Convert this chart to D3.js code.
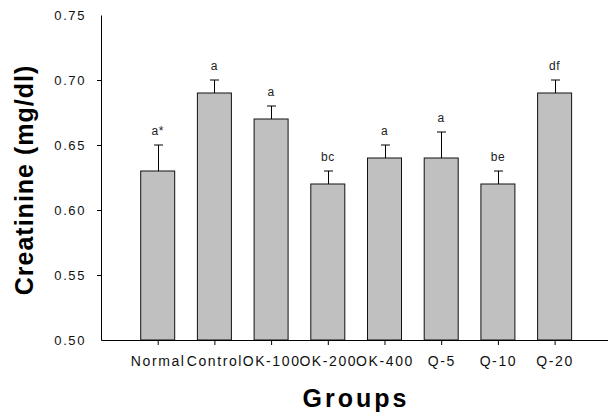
<!DOCTYPE html>
<html>
<head>
<meta charset="utf-8">
<script src="https://cdn.jsdelivr.net/npm/d3@7"></script>
<style>
  body { margin: 0; background: #fff; }
  svg { display: block; font-family: "Liberation Sans", Arial, sans-serif; }
</style>
</head>
<body>
<div id="chart"></div>
<script>
// Data
const groups = ["Normal", "Control", "OK-100", "OK-200", "OK-400", "Q-5", "Q-10", "Q-20"];
const means  = [0.63, 0.69, 0.67, 0.62, 0.64, 0.64, 0.62, 0.69];
const errors = [0.02, 0.01, 0.01, 0.01, 0.01, 0.02, 0.01, 0.01];
const letters = ["a*", "a", "a", "bc", "a", "a", "be", "df"];
const yTicks = [0.50, 0.55, 0.60, 0.65, 0.70, 0.75];

const width = 608, height = 415;
const margin = {top: 15, left: 101, bottom: 340};

const svg = d3.select("#chart")
  .append("svg")
    .attr("width", width)
    .attr("height", height);

// x: points with one empty step on each side
const x = d3.scalePoint()
  .domain(groups)
  .range([margin.left, margin.left + 9 * 56.7])
  .padding(1);

const y = d3.scaleLinear()
  .domain([0.50, 0.75])
  .range([margin.bottom, margin.top]);

const barW = 34;

// bars
svg.append("g")
  .selectAll("rect")
  .data(groups)
  .join("rect")
    .attr("x", d => x(d) - barW / 2)
    .attr("y", (d, i) => y(means[i]))
    .attr("width", barW)
    .attr("height", (d, i) => y(0.50) - y(means[i]))
    .attr("fill", "#c0c0c0")
    .attr("stroke", "#111")
    .attr("stroke-width", 1);

// upper error bars
const eb = svg.append("g").attr("stroke", "#000").attr("stroke-width", 1);
groups.forEach((g, i) => {
  const cx = Math.round(x(g)) + 0.5;
  eb.append("line")
    .attr("x1", cx).attr("x2", cx)
    .attr("y1", y(means[i])).attr("y2", y(means[i] + errors[i]));
  eb.append("line")
    .attr("x1", cx - 4.5).attr("x2", cx + 4.5)
    .attr("y1", y(means[i] + errors[i])).attr("y2", y(means[i] + errors[i]));
});

// significance letters
svg.append("g")
  .selectAll("text")
  .data(groups)
  .join("text")
    .attr("x", d => x(d))
    .attr("y", (d, i) => y(means[i] + errors[i]) - 10)
    .attr("text-anchor", "middle")
    .style("font-size", "12px")
    .style("letter-spacing", "0.5px")
    .attr("fill", "#222")
    .text((d, i) => letters[i]);

// x axis
const xAxis = svg.append("g")
  .attr("transform", `translate(0,${margin.bottom})`)
  .call(d3.axisBottom(x).tickSize(5).tickPadding(11).tickSizeOuter(0));
xAxis.selectAll("text")
  .style("font-size", "14px")
  .style("letter-spacing", "1.6px")
  .attr("fill", "#111");

// y axis
const yAxis = svg.append("g")
  .attr("transform", `translate(${margin.left},0)`)
  .call(d3.axisLeft(y).tickValues(yTicks).tickFormat(d3.format(".2f"))
    .tickSize(4).tickPadding(11).tickSizeOuter(0));
yAxis.selectAll(".tick line")
  .filter(d => d === 0.50 || d === 0.75)
  .remove();
yAxis.selectAll("text")
  .style("font-size", "13px")
  .style("letter-spacing", "1.6px")
  .attr("fill", "#111");

// axis titles
svg.append("text")
  .attr("x", 356)
  .attr("y", 407)
  .attr("text-anchor", "middle")
  .style("font-size", "25px")
  .style("font-weight", "bold")
  .style("letter-spacing", "3px")
  .text("Groups");

svg.append("text")
  .attr("transform", "translate(33,180) rotate(-90)")
  .attr("text-anchor", "middle")
  .style("font-size", "25px")
  .style("font-weight", "bold")
  .style("letter-spacing", "1px")
  .text("Creatinine (mg/dl)");
</script>
</body>
</html>
